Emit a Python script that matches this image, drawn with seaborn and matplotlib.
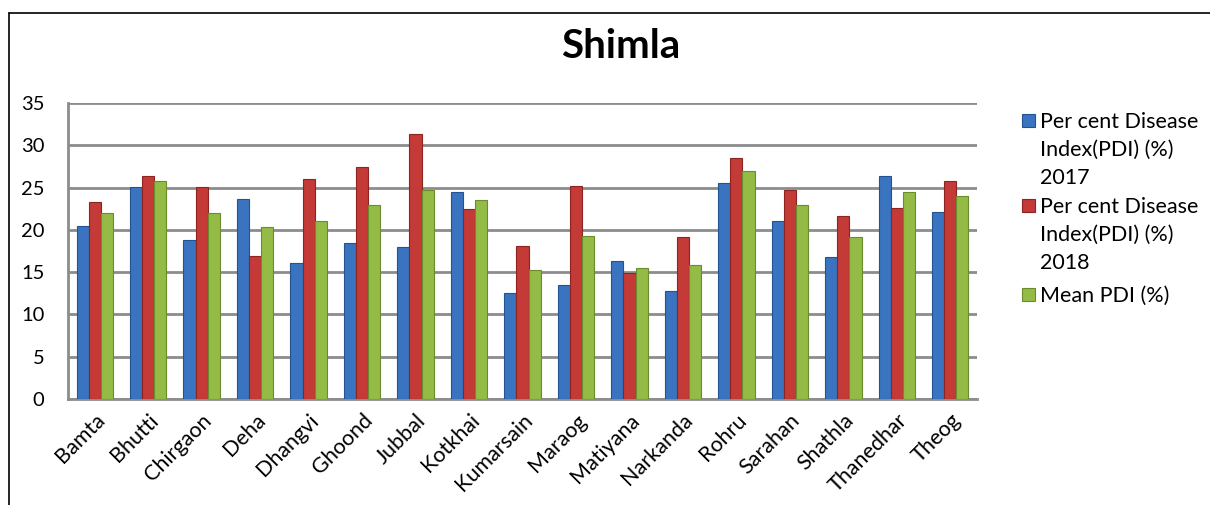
import matplotlib
matplotlib.use("Agg")
import matplotlib.pyplot as plt
import seaborn as sns
import pandas as pd
from matplotlib.lines import Line2D
from matplotlib.patches import Rectangle

categories = ["Bamta", "Bhutti", "Chirgaon", "Deha", "Dhangvi", "Ghoond", "Jubbal",
              "Kotkhai", "Kumarsain", "Maraog", "Matiyana", "Narkanda", "Rohru",
              "Sarahan", "Shathla", "Thanedhar", "Theog"]
pdi_2017 = [20.4, 25.1, 18.8, 23.6, 16.1, 18.4, 18.0, 24.5, 12.5, 13.5, 16.3, 12.8,
            25.5, 21.0, 16.8, 26.4, 22.1]
pdi_2018 = [23.3, 26.4, 25.1, 16.9, 26.0, 27.4, 31.3, 22.5, 18.1, 25.2, 14.9, 19.1,
            28.5, 24.7, 21.6, 22.6, 25.8]
pdi_mean = [22.0, 25.8, 22.0, 20.3, 21.0, 22.9, 24.7, 23.5, 15.3, 19.3, 15.5, 15.9,
            27.0, 22.9, 19.2, 24.5, 24.0]
series_names = ["Per cent Disease Index(PDI) (%) 2017",
                "Per cent Disease Index(PDI) (%) 2018",
                "Mean PDI (%)"]
legend_lines = [["Per cent Disease", "Index(PDI) (%)", "2017"],
                ["Per cent Disease", "Index(PDI) (%)", "2018"],
                ["Mean PDI (%)"]]
colors = ["#3A73BF", "#C33A37", "#93BB45"]
edge_colors = ["#24548F", "#8E2422", "#6A8C2C"]
y_ticks = [0, 5, 10, 15, 20, 25, 30, 35]

rows = []
for name, vals in zip(series_names, [pdi_2017, pdi_2018, pdi_mean]):
    for c, v in zip(categories, vals):
        rows.append({"District": c, "Series": name, "PDI": v})
df = pd.DataFrame(rows)

sns.set_theme(style="white")
plt.rcParams["font.family"] = ["Lato", "DejaVu Sans"]

W, H = 1210, 505
fig = plt.figure(figsize=(W / 100, H / 100), dpi=100)
ax = fig.add_axes([68 / W, 1 - 399 / H, (977 - 68) / W, (399 - 103) / H])

sns.barplot(data=df, x="District", y="PDI", hue="Series", order=categories,
            hue_order=series_names, palette=colors, width=0.68, ax=ax,
            errorbar=None, legend=False, saturation=1)

for i, cont in enumerate(ax.containers):
    for bar in cont:
        bar.set_edgecolor(edge_colors[i])
        bar.set_linewidth(0.8)
        bar.set_zorder(3)

ax.set_ylim(0, 35)
ax.set_xlim(-0.5, len(categories) - 0.5)
ax.set_yticks(y_ticks)
ax.set_yticklabels([str(t) for t in y_ticks], fontsize=14.5, color="#000000")
ax.tick_params(axis="y", length=0, pad=17)
ax.tick_params(axis="x", length=0, pad=8)
ax.set_xticks(range(len(categories)))
ax.set_xticklabels(categories, rotation=45, ha="right", rotation_mode="anchor",
                   fontsize=15.5, color="#000000")
ax.set_xlabel("")
ax.set_ylabel("")
ax.yaxis.grid(True, color="#8C8C8C", linewidth=2.0, zorder=0)
ax.set_axisbelow(True)
for s in ["top", "right"]:
    ax.spines[s].set_visible(False)
ax.spines["left"].set_color("#8C8C8C")
ax.spines["left"].set_linewidth(2.0)
ax.spines["bottom"].set_color("#8C8C8C")
ax.spines["bottom"].set_linewidth(2.0)

fig.text(621 / W, 1 - 47 / H, "Shimla", ha="center", va="center",
         fontsize=29, fontweight="bold", color="#000000")

# legend, one square per series aligned with its first text line
first_line_y = [120, 205, 294]
line_step = 28
for i, lines in enumerate(legend_lines):
    y0 = first_line_y[i]
    fig.add_artist(Rectangle((1022 / W, 1 - (y0 + 7) / H), 13 / W, 13 / H,
                             facecolor=colors[i], edgecolor=edge_colors[i],
                             linewidth=0.8, transform=fig.transFigure))
    for j, txt in enumerate(lines):
        fig.text(1040 / W, 1 - (y0 + j * line_step) / H, txt, ha="left",
                 va="center_baseline", fontsize=15.5, color="#000000")

# outer frame
fig.add_artist(Line2D([9 / W, 1], [1 - 13 / H, 1 - 13 / H], color="#000000",
                      linewidth=1.2, transform=fig.transFigure))
fig.add_artist(Line2D([9 / W, 9 / W], [0, 1 - 13 / H], color="#000000",
                      linewidth=1.2, transform=fig.transFigure))

fig.savefig("out.png", dpi=100)
